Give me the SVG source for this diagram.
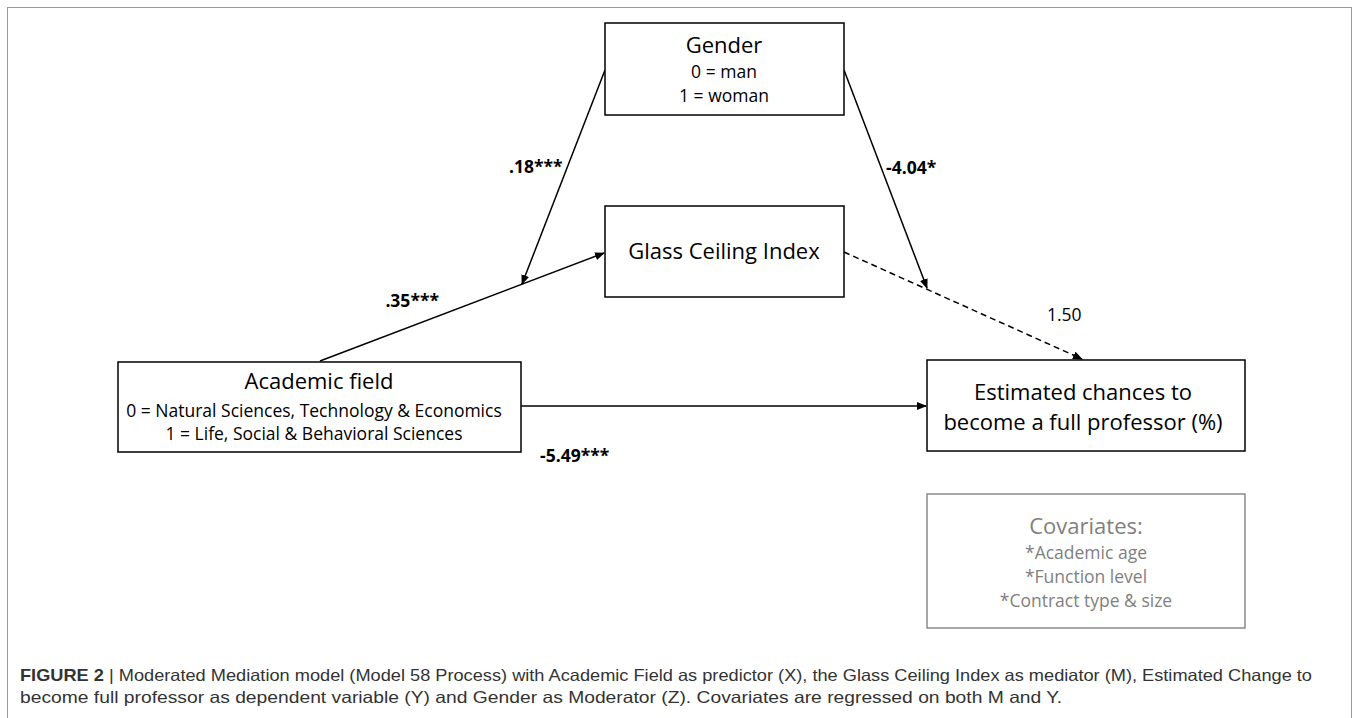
<svg xmlns="http://www.w3.org/2000/svg" width="1357" height="718" viewBox="0 0 1357 718">
<defs>
<marker id="ah" markerWidth="10" markerHeight="8" refX="9" refY="4" orient="auto" markerUnits="userSpaceOnUse">
<path d="M0,0 L10,4 L0,8 Z" fill="#000"/>
</marker>
<style>
.box{fill:#fff;stroke:#000;stroke-width:1.5}
.gbox{fill:#fff;stroke:#8a8a8a;stroke-width:1.5}
.t{font-family:"Open Sans","Liberation Sans",sans-serif;fill:#000;text-anchor:middle}
.big{font-size:22px}
.sm{font-size:17.5px}
.g{fill:#7f7f7f}
.lab{font-family:"Open Sans","Liberation Sans",sans-serif;font-size:17.5px;font-weight:bold;fill:#000}
.reg{font-family:"Open Sans","Liberation Sans",sans-serif;font-size:17.5px;font-weight:normal;fill:#000}
.conn{stroke:#000;stroke-width:1.5;fill:none;marker-end:url(#ah)}
.dash{stroke-dasharray:6 4}
.cap{font-family:"Liberation Sans",Arial,sans-serif;font-size:16.5px;fill:#333}
</style>
</defs>
<rect x="7.5" y="7.5" width="1344" height="720" fill="none" stroke="#9a9a9a" stroke-width="1"/>
<g id="connectors">
<line class="conn" x1="320" y1="361" x2="604" y2="253"/>
<line class="conn" x1="605" y1="70" x2="522" y2="284"/>
<line class="conn dash" x1="844" y1="252" x2="1082" y2="359"/>
<line class="conn" x1="844" y1="70" x2="927" y2="288"/>
<line class="conn" x1="521" y1="406" x2="926" y2="406"/>
</g>
<g id="gender">
<rect class="box" x="605" y="23" width="239" height="92"/>
<text class="t big" x="724" y="53">Gender</text>
<text class="t sm" x="724" y="78">0 = man</text>
<text class="t sm" x="724" y="102">1 = woman</text>
</g>
<g id="gci">
<rect class="box" x="605" y="206" width="239" height="91"/>
<text class="t big" x="724" y="259">Glass Ceiling Index</text>
</g>
<g id="academic">
<rect class="box" x="118" y="362" width="403" height="90"/>
<text class="t big" x="319" y="389">Academic field</text>
<text class="t sm" x="314" y="417">0 = Natural Sciences, Technology &amp; Economics</text>
<text class="t sm" x="314" y="440">1 = Life, Social &amp; Behavioral Sciences</text>
</g>
<g id="estimated">
<rect class="box" x="927" y="360" width="318" height="91"/>
<text class="t big" x="1083" y="400">Estimated chances to</text>
<text class="t big" x="1083" y="430">become a full professor (%)</text>
</g>
<g id="covariates">
<rect class="gbox" x="927" y="494" width="318" height="134"/>
<text class="t big g" x="1086" y="534">Covariates:</text>
<text class="t sm g" x="1086" y="559">*Academic age</text>
<text class="t sm g" x="1086" y="583">*Function level</text>
<text class="t sm g" x="1086" y="607">*Contract type &amp; size</text>
</g>
<g id="labels">
<text class="lab" x="509" y="173">.18***</text>
<text class="lab" x="439" y="307" text-anchor="end">.35***</text>
<text class="lab" x="886" y="174">-4.04*</text>
<text class="reg" x="1047" y="321">1.50</text>
<text class="lab" x="540" y="462">-5.49***</text>
</g>
<g id="caption">
<text class="cap" x="20" y="681" textLength="1292" lengthAdjust="spacingAndGlyphs"><tspan font-weight="bold">FIGURE 2</tspan> | Moderated Mediation model (Model 58 Process) with Academic Field as predictor (X), the Glass Ceiling Index as mediator (M), Estimated Change to</text>
<text class="cap" x="20" y="703" textLength="1042" lengthAdjust="spacingAndGlyphs">become full professor as dependent variable (Y) and Gender as Moderator (Z). Covariates are regressed on both M and Y.</text>
</g>
</svg>
